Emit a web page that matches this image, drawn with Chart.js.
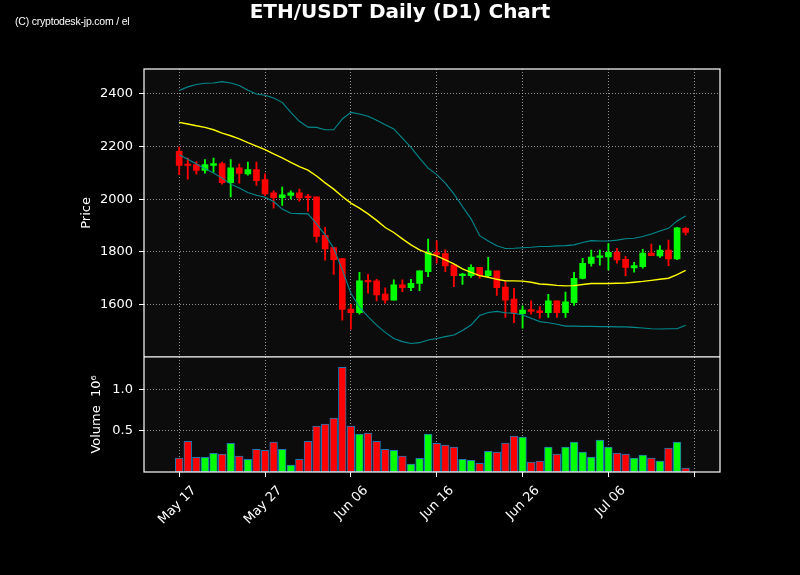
<!DOCTYPE html>
<html>
<head>
<meta charset="utf-8">
<title>ETH/USDT Daily (D1) Chart</title>
<script src="https://cdn.jsdelivr.net/npm/chart.js@4.4.1/dist/chart.umd.min.js"></script>
<style>
    html, body { margin: 0; padding: 0; background: #000; }
    #wrap { position: relative; width: 800px; height: 575px; }
    #title {
        position: absolute; left: 0; top: 0; width: 800px; text-align: center;
        color: #fff; font: bold 20px "DejaVu Sans"; line-height: 22px;
    }
    #credit {
        position: absolute; left: 15px; top: 15px;
        color: #fff; font: 10.5px "Liberation Sans"; line-height: 12px; letter-spacing: -0.2px;
    }
</style>
</head>
<body>
<div id="wrap">
    <canvas id="chart" width="800" height="575"></canvas>
    <div id="title">ETH/USDT Daily (D1) Chart</div>
    <div id="credit">(C) cryptodesk-jp.com / el</div>
</div>
<script>
// daily candles, May 17 .. Jul 15
const dates = [
    "05-17", "05-18", "05-19", "05-20", "05-21", "05-22", "05-23", "05-24", "05-25", "05-26",
    "05-27", "05-28", "05-29", "05-30", "05-31", "06-01", "06-02", "06-03", "06-04", "06-05",
    "06-06", "06-07", "06-08", "06-09", "06-10", "06-11", "06-12", "06-13", "06-14", "06-15",
    "06-16", "06-17", "06-18", "06-19", "06-20", "06-21", "06-22", "06-23", "06-24", "06-25",
    "06-26", "06-27", "06-28", "06-29", "06-30", "07-01", "07-02", "07-03", "07-04", "07-05",
    "07-06", "07-07", "07-08", "07-09", "07-10", "07-11", "07-12", "07-13", "07-14", "07-15"
];
const opens = [
    2182, 2131, 2131, 2109, 2128, 2135, 2063, 2119, 2096, 2112,
    2074, 2024, 2006, 2014, 2024, 2009, 2009, 1862, 1816, 1774,
    1582, 1568, 1689, 1689, 1639, 1616, 1674, 1663, 1679, 1724,
    1797, 1793, 1750, 1709, 1709, 1741, 1709, 1727, 1665, 1620,
    1564, 1580, 1575, 1568, 1613, 1568, 1606, 1698, 1755, 1778,
    1780, 1799, 1771, 1738, 1743, 1795, 1784, 1806, 1773, 1889
];
const highs = [
    2198, 2156, 2143, 2150, 2156, 2141, 2150, 2133, 2141, 2141,
    2096, 2032, 2046, 2032, 2038, 2018, 2009, 1893, 1816, 1774,
    1600, 1722, 1714, 1695, 1663, 1693, 1693, 1695, 1727, 1848,
    1841, 1807, 1750, 1718, 1750, 1741, 1779, 1727, 1686, 1661,
    1594, 1613, 1591, 1638, 1613, 1646, 1722, 1775, 1806, 1806,
    1831, 1813, 1782, 1760, 1809, 1829, 1823, 1844, 1893, 1892
];
const lows = [
    2093, 2076, 2095, 2099, 2103, 2057, 2008, 2061, 2091, 2052,
    2013, 1966, 1976, 2001, 1992, 1954, 1836, 1768, 1714, 1540,
    1505, 1562, 1642, 1613, 1604, 1616, 1648, 1652, 1652, 1705,
    1756, 1724, 1667, 1676, 1702, 1699, 1705, 1634, 1550, 1530,
    1509, 1562, 1547, 1550, 1550, 1550, 1596, 1696, 1745, 1749,
    1731, 1756, 1709, 1722, 1737, 1785, 1778, 1747, 1770, 1863
];
const closes = [
    2128, 2128, 2109, 2131, 2135, 2063, 2119, 2098, 2112, 2070,
    2020, 2006, 2016, 2024, 2005, 2006, 1858, 1811, 1770, 1580,
    1568, 1689, 1685, 1636, 1616, 1674, 1663, 1680, 1727, 1797,
    1790, 1746, 1709, 1714, 1741, 1709, 1727, 1663, 1616, 1566,
    1578, 1573, 1568, 1613, 1568, 1609, 1699, 1756, 1780, 1784,
    1798, 1769, 1740, 1747, 1795, 1785, 1806, 1773, 1891, 1873
];
// volume in millions
const volumes = [
    0.169, 0.369, 0.177, 0.177, 0.225, 0.217, 0.345, 0.193, 0.153, 0.273,
    0.261, 0.361, 0.273, 0.084, 0.153, 0.369, 0.554, 0.578, 0.651, 1.265,
    0.554, 0.458, 0.470, 0.369, 0.273, 0.261, 0.193, 0.096, 0.165, 0.458,
    0.345, 0.325, 0.301, 0.153, 0.141, 0.104, 0.249, 0.241, 0.349, 0.434,
    0.422, 0.120, 0.133, 0.301, 0.217, 0.301, 0.361, 0.241, 0.181, 0.386,
    0.301, 0.229, 0.217, 0.169, 0.205, 0.169, 0.133, 0.289, 0.361, 0.048
];
// 20-day moving average and bollinger bands
const sma = [
    2292, 2286, 2279, 2273, 2264, 2251, 2241, 2229, 2215, 2202,
    2188, 2172, 2157, 2140, 2124, 2110, 2088, 2062, 2038, 2010,
    1985, 1966, 1944, 1919, 1892, 1873, 1849, 1826, 1807, 1794,
    1784, 1769, 1754, 1735, 1721, 1709, 1703, 1695, 1689, 1689,
    1688, 1684, 1677, 1675, 1672, 1670, 1671, 1675, 1679, 1679,
    1679, 1680, 1681, 1684, 1687, 1691, 1695, 1699, 1713, 1729
];
const upperBand = [
    2413, 2427, 2436, 2441, 2442, 2447, 2442, 2432, 2414, 2400,
    2395, 2385, 2368, 2330, 2296, 2274, 2273, 2264, 2264, 2305,
    2330, 2324, 2315, 2300, 2283, 2267, 2232, 2197, 2156, 2118,
    2093, 2061, 2020, 1972, 1925, 1861, 1841, 1823, 1812, 1813,
    1815, 1817, 1820, 1820, 1822, 1823, 1826, 1835, 1842, 1841,
    1841, 1844, 1849, 1851, 1858, 1867, 1879, 1889, 1917, 1936
];
const lowerBand = [
    2169, 2152, 2134, 2116, 2099, 2080, 2057, 2042, 2025, 2015,
    2007, 1991, 1962, 1946, 1945, 1944, 1906, 1864, 1813, 1731,
    1642, 1589, 1553, 1521, 1493, 1470, 1458, 1451, 1454, 1464,
    1470, 1477, 1483, 1500, 1521, 1557, 1569, 1573, 1568, 1566,
    1559, 1547, 1534, 1530, 1524, 1517, 1517, 1516, 1516, 1515,
    1515, 1514, 1514, 1512, 1510, 1507, 1506, 1507, 1507, 1520
];
const tickDays = [0, 10, 20, 30, 40, 50, 60];
const tickLabels = ["May 17", "May 27", "Jun 06", "Jun 16", "Jun 26", "Jul 06", ""];
const priceTicks = [1600, 1800, 2000, 2200, 2400];
const volTicks = [0.5, 1.0];

const RED = '#ff0000';
const GREEN = '#00ff00';
const GRID = 'rgba(190,190,190,0.75)';
const font = { family: 'DejaVu Sans', size: 13 };

const isUp = i => closes[i] >= opens[i];
const candleColor = ctx => isUp(ctx.dataIndex) ? GREEN : RED;

const bodies = dates.map((d, i) => ({ x: i, y: [opens[i], closes[i]] }));
const wicks = dates.map((d, i) => ({ x: i, y: [lows[i], highs[i]] }));
const vols = dates.map((d, i) => ({ x: i, y: volumes[i] }));
const line = arr => arr.map((v, i) => ({ x: i, y: v }));

const framePlugin = {
    id: 'frame',
    beforeDraw(chart) {
        const { ctx, chartArea: a } = chart;
        ctx.save();
        ctx.fillStyle = '#000';
        ctx.fillRect(0, 0, chart.width, chart.height);
        ctx.fillStyle = '#0c0c0c';
        ctx.fillRect(a.left, a.top, a.width, a.height);
        ctx.restore();
    },
    afterDraw(chart) {
        const { ctx, chartArea: a } = chart;
        const sep = chart.scales.y.bottom;
        ctx.save();
        ctx.strokeStyle = '#fff';
        ctx.lineWidth = 1.2;
        ctx.strokeRect(a.left, a.top, a.width, a.height);
        ctx.beginPath();
        ctx.moveTo(a.left, sep);
        ctx.lineTo(a.right, sep);
        ctx.stroke();
        ctx.restore();
    }
};

const gridOpts = { color: GRID, tickColor: '#fff', tickLength: 5, tickBorderDash: [], tickWidth: 1, offset: false };
const borderOpts = { display: false, dash: [1, 2] };

new Chart(document.getElementById('chart'), {
    type: 'bar',
    data: {
        datasets: [
            { type: 'line', data: line(sma), borderColor: '#ffff00', borderWidth: 1.4, pointRadius: 0, yAxisID: 'y', order: 0 },
            { type: 'line', data: line(upperBand), borderColor: '#008a8f', borderWidth: 1.1, pointRadius: 0, yAxisID: 'y', order: 0 },
            { type: 'line', data: line(lowerBand), borderColor: '#008a8f', borderWidth: 1.1, pointRadius: 0, yAxisID: 'y', order: 0 },
            { data: bodies, backgroundColor: candleColor, barThickness: 6, minBarLength: 1.5, grouped: false, yAxisID: 'y', order: 1 },
            { data: wicks, backgroundColor: candleColor, barThickness: 1.2, grouped: false, yAxisID: 'y', order: 2 },
            { data: vols, backgroundColor: candleColor, borderColor: '#1f77b4', borderWidth: 1, borderSkipped: false,
              barThickness: 7.7, grouped: false, yAxisID: 'vol', order: 3 }
        ]
    },
    options: {
        responsive: false,
        animation: false,
        devicePixelRatio: 1,
        layout: { padding: { left: 0, right: 80, top: 69, bottom: 0 } },
        plugins: { legend: { display: false }, tooltip: { enabled: false } },
        scales: {
            x: {
                type: 'linear', min: -4.1, max: 63.0, offset: false,
                afterBuildTicks: s => { s.ticks = tickDays.map(v => ({ value: v })); },
                afterFit: s => { s.height = 103; },
                ticks: {
                    color: '#fff', font, autoSkip: false, minRotation: 45, maxRotation: 45,
                    padding: 6, labelOffset: 15,
                    callback: v => tickLabels[tickDays.indexOf(v)]
                },
                grid: gridOpts,
                border: borderOpts
            },
            // volume panel declared first: the layout stacks it below the price panel
            vol: {
                type: 'linear', position: 'left', stack: 'panels', stackWeight: 1,
                min: 0, max: 1.39,
                afterBuildTicks: s => { s.ticks = volTicks.map(v => ({ value: v })); },
                afterFit: s => { s.width = 144; },
                ticks: { color: '#fff', font, padding: 6, callback: v => v.toFixed(1) },
                grid: gridOpts,
                border: borderOpts,
                title: { display: true, text: 'Volume  10⁶', color: '#fff', font, padding: { top: 89, bottom: 0 } }
            },
            y: {
                type: 'linear', position: 'left', stack: 'panels', stackWeight: 2.5,
                min: 1400, max: 2495,
                afterBuildTicks: s => { s.ticks = priceTicks.map(v => ({ value: v })); },
                afterFit: s => { s.width = 144; },
                ticks: { color: '#fff', font, padding: 6, callback: v => String(v) },
                grid: gridOpts,
                border: borderOpts,
                title: { display: true, text: 'Price', color: '#fff', font, padding: { top: 79, bottom: 0 } }
            }
        }
    },
    plugins: [framePlugin]
});
</script>
</body>
</html>
